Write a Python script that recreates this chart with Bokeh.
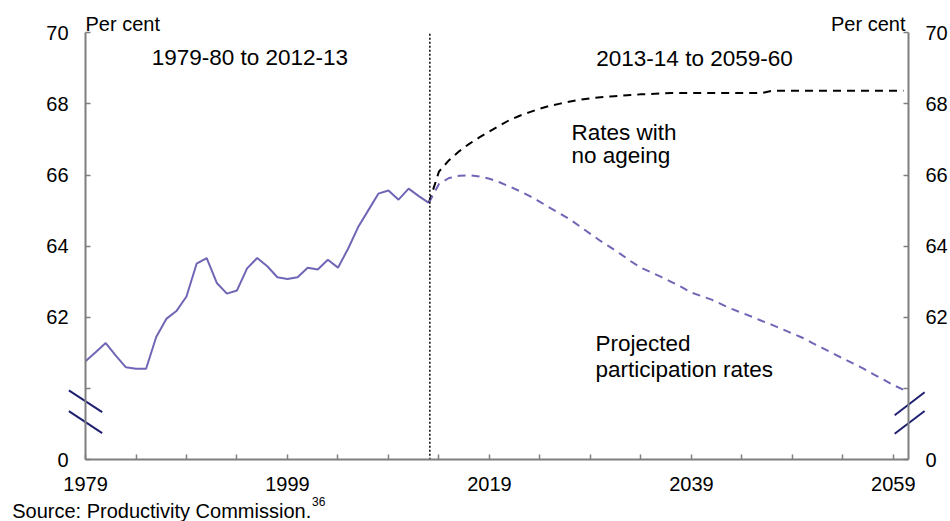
from bokeh.plotting import figure
from bokeh.models import Range1d, LinearAxis, FixedTicker
from bokeh.core.properties import value
from bokeh.embed import file_html
from bokeh.resources import INLINE

# ---------------- data ----------------
hist_years = list(range(1979, 2014))
hist_rate = [60.77, 61.02, 61.28, 60.93, 60.60, 60.56, 60.56, 61.45, 61.96, 62.18,
             62.59, 63.51, 63.67, 62.97, 62.67, 62.76, 63.38, 63.67, 63.44, 63.13,
             63.08, 63.13, 63.40, 63.35, 63.62, 63.40, 63.93, 64.54, 65.01, 65.48,
             65.57, 65.31, 65.62, 65.41, 65.22]

proj_years = list(range(2013, 2061))
proj_rate = [65.22, 65.75, 65.92, 65.98, 66.00, 65.96, 65.90, 65.80, 65.68, 65.55,
             65.41, 65.25, 65.08, 64.92, 64.75, 64.55, 64.35, 64.15, 63.97, 63.78,
             63.58, 63.40, 63.27, 63.14, 63.00, 62.86, 62.70, 62.60, 62.50, 62.37,
             62.24, 62.13, 62.02, 61.90, 61.79, 61.67, 61.55, 61.43, 61.28, 61.14,
             60.99, 60.85, 60.71, 60.57, 60.41, 60.26, 60.10, 59.97]
no_ageing_rate = [65.22, 66.10, 66.42, 66.67, 66.88, 67.06, 67.23, 67.39, 67.55, 67.67,
                  67.77, 67.87, 67.95, 68.01, 68.07, 68.12, 68.16, 68.19, 68.21, 68.23,
                  68.25, 68.27, 68.28, 68.30, 68.31, 68.31, 68.31, 68.31, 68.31, 68.31,
                  68.31, 68.31, 68.31, 68.31, 68.37, 68.37, 68.37, 68.37, 68.37, 68.37,
                  68.37, 68.37, 68.37, 68.37, 68.37, 68.37, 68.37, 68.37]

x_ticks = list(range(1979, 2060, 5))
x_labels = {1979: "1979", 1999: "1999", 2019: "2019", 2039: "2039", 2059: "2059"}
y_ticks = [58, 60, 62, 64, 66, 68, 70]
y_labels = {58: "0", 60: "", 62: "62", 64: "64", 66: "66", 68: "68", 70: "70"}
x_first, x_last = 1979, 2060.5      # extent of the x axis
y_low, y_high = 58, 70              # extent of the (broken) y axis
split_year = 2013.1

# ---------------- style ----------------
FONT = "Liberation Sans"
PURPLE = "#6f66b6"
AXIS_GREY = "#7f7f7f"
BREAK = "#1f2070"

W, H = 950, 521
# frame covers the whole canvas; axes sit at fixed data locations
p = figure(width=W, height=H, output_backend="svg", toolbar_location=None,
           x_range=Range1d(1970.58, 2064.66), y_range=Range1d(56.266, 70.908),
           x_axis_location=None, y_axis_location=None,
           min_border_left=0, min_border_right=0, min_border_top=0,
           min_border_bottom=0)
p.outline_line_color = None
p.grid.visible = False
p.background_fill_color = "white"
p.border_fill_color = "white"

left_axis = LinearAxis(fixed_location=x_first, bounds=(y_low, y_high))
right_axis = LinearAxis(fixed_location=x_last, bounds=(y_low, y_high))
bottom_axis = LinearAxis(fixed_location=y_low, bounds=(x_first, x_last))
p.add_layout(left_axis, "left")
p.add_layout(right_axis, "right")
p.add_layout(bottom_axis, "below")

for ax in [left_axis, right_axis, bottom_axis]:
    ax.axis_line_color = AXIS_GREY
    ax.axis_line_width = 2
    ax.major_tick_line_color = AXIS_GREY
    ax.major_tick_line_width = 1.5
    ax.major_tick_in = 5
    ax.major_tick_out = 0
    ax.minor_tick_line_color = None
    ax.major_label_text_font = FONT
    ax.major_label_text_font_size = "20px"
    ax.major_label_text_color = "black"

bottom_axis.ticker = FixedTicker(ticks=x_ticks)
bottom_axis.major_label_overrides = {t: x_labels.get(t, "") for t in x_ticks}
bottom_axis.major_label_standoff = 17

for ax in [left_axis, right_axis]:
    ax.ticker = FixedTicker(ticks=y_ticks)
    ax.major_label_overrides = dict(y_labels)
left_axis.major_label_standoff = 17
right_axis.major_label_standoff = 17

# ---------------- lines ----------------
p.line(hist_years, hist_rate, line_color=PURPLE, line_width=2)
p.line(proj_years, no_ageing_rate, line_color="black", line_width=2,
       line_dash="8 6")
p.line(proj_years, proj_rate, line_color=PURPLE, line_width=2,
       line_dash="8 6")

# vertical divider between history and projection
p.segment(x0=[split_year], y0=[y_low], x1=[split_year], y1=[y_high],
          line_color="black", line_width=1.5, line_dash="2 2")

# ---------------- axis break marks ----------------
p.segment(x0=[1977.35, 1977.35, 2059.13, 2059.13],
          y0=[59.95, 59.37, 59.25, 58.73],
          x1=[1980.65, 1980.65, 2062.1, 2062.1],
          y1=[59.34, 58.75, 59.90, 59.37],
          line_color=BREAK, line_width=2)

# ---------------- texts ----------------
def lab(x, y, text, size="22.5px", align="left"):
    p.text(x=[x], y=[y], text=[text], text_font=value(FONT),
           text_font_size=size, text_color="black", text_align=align,
           text_baseline="alphabetic")

lab(1979.0, 70.253, "Per cent", size="20px")
lab(2060.2, 70.253, "Per cent", size="20px", align="right")
lab(1995.59, 69.298, "1979-80  to 2012-13", align="center")
lab(2039.31, 69.27, "2013-14 to 2059-60", align="center")
lab(2027.13, 67.207, "Rates with")
lab(2027.13, 66.545, "no ageing")
lab(2029.5, 61.277, "Projected")
lab(2029.5, 60.53, "participation rates")
lab(1971.74, 56.56, "Source: Productivity Commission.", size="20px")
lab(2001.44, 56.84, "36", size="12px")

open("out.html", "w").write(file_html(p, INLINE))
